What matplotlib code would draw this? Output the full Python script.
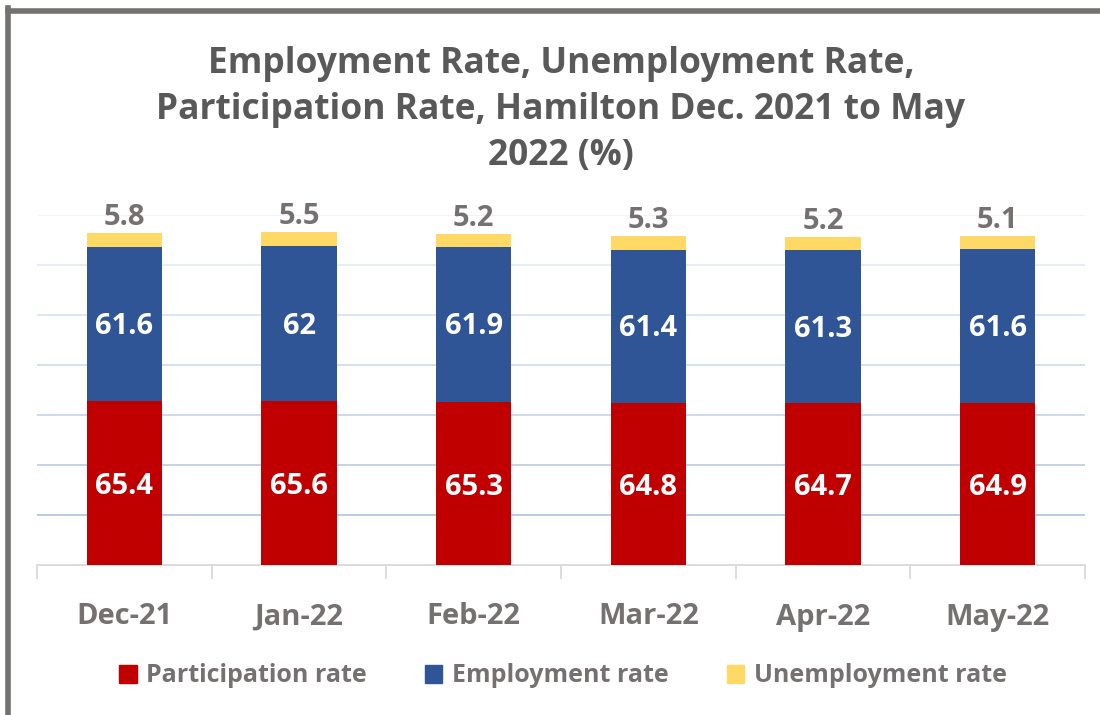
import matplotlib
matplotlib.use("Agg")
import matplotlib.pyplot as plt
from matplotlib.lines import Line2D
from matplotlib.patches import Patch
import numpy as np

categories = ["Dec-21", "Jan-22", "Feb-22", "Mar-22", "Apr-22", "May-22"]
participation = [65.4, 65.6, 65.3, 64.8, 64.7, 64.9]
employment = [61.6, 62, 61.9, 61.4, 61.3, 61.6]
unemployment = [5.8, 5.5, 5.2, 5.3, 5.2, 5.1]
series_names = ["Participation rate", "Employment rate", "Unemployment rate"]

plt.rcParams['font.family'] = ['Open Sans', 'DejaVu Sans']
GRAY = "#767171"
TITLE_GRAY = "#595959"
RED = "#C00000"
BLUE = "#2F5597"
YELLOW = "#FFD966"

fig = plt.figure(figsize=(11, 7.15), dpi=100)
W, H = 1100, 715
ax = fig.add_axes([37 / W, 1 - 565 / H, (1085 - 37) / W, (565 - 215) / H])

x = np.arange(len(categories))
bw = 0.43
ax.bar(x, participation, bw, color=RED, zorder=3)
ax.bar(x, employment, bw, bottom=participation, color=BLUE, zorder=3)
bottom2 = np.array(participation) + np.array(employment)
ax.bar(x, unemployment, bw, bottom=bottom2, color=YELLOW, zorder=3)

for i in range(len(categories)):
    ax.text(x[i], participation[i] / 2 - 1.5, f"{participation[i]:g}", ha="center", va="center",
            color="white", fontsize=21, fontweight="bold", zorder=4)
    ax.text(x[i], participation[i] + employment[i] / 2 - 1.0, f"{employment[i]:g}", ha="center", va="center",
            color="white", fontsize=21, fontweight="bold", zorder=4)
    ax.text(x[i], bottom2[i] + unemployment[i] + 0.5, f"{unemployment[i]:g}", ha="center", va="bottom",
            color=GRAY, fontsize=21, fontweight="bold", zorder=4)

ax.set_xlim(-0.5, len(categories) - 0.5)
ax.set_ylim(0, 140)
ticks = np.arange(20, 141, 20)
for j, t in enumerate(ticks):
    alpha = 1.0 - 0.13 * j
    ax.axhline(t, color="#B4C7E7", lw=1.3, alpha=max(alpha, 0.2), zorder=1)

for s in ["top", "right", "left"]:
    ax.spines[s].set_visible(False)
ax.spines["bottom"].set_color("#D9D9D9")
ax.spines["bottom"].set_linewidth(1.3)
ax.set_yticks([])
ax.set_xticks(np.arange(-0.5, len(categories), 1.0), minor=False)
ax.set_xticklabels([])
ax.tick_params(axis="x", which="major", length=10, color="#D9D9D9", width=1.3)
ax.set_xticks(x, minor=True)
ax.set_xticklabels(categories, minor=True)
ax.tick_params(axis="x", which="minor", length=0, pad=27, labelsize=21, labelcolor=GRAY)
for lbl in ax.get_xticklabels(minor=True):
    lbl.set_fontweight("bold")

fig.text(561 / W, 1 - 110 / H,
         "Employment Rate, Unemployment Rate,\nParticipation Rate, Hamilton Dec. 2021 to May\n2022 (%)",
         ha="center", va="center", fontsize=25.5, fontweight="bold", color=TITLE_GRAY, linespacing=1.36)

handles = [Patch(color=c) for c in [RED, BLUE, YELLOW]]
leg = fig.legend(handles, series_names, loc="center", bbox_to_anchor=(563 / W, 1 - 676 / H), ncol=3,
                 frameon=False, handlelength=0.7, handleheight=0.7, handletextpad=0.4, columnspacing=2.3,
                 prop={"weight": "bold", "size": 18})
for t in leg.get_texts():
    t.set_color(GRAY)

fig.add_artist(Line2D([7.5 / W, 7.5 / W], [0, 1 - 8 / H], color=GRAY, lw=4, transform=fig.transFigure,
                      solid_capstyle="projecting"))
fig.add_artist(Line2D([7.5 / W, 1], [1 - 10.5 / H, 1 - 10.5 / H], color=GRAY, lw=4, transform=fig.transFigure))

fig.savefig("out.png", dpi=100)
